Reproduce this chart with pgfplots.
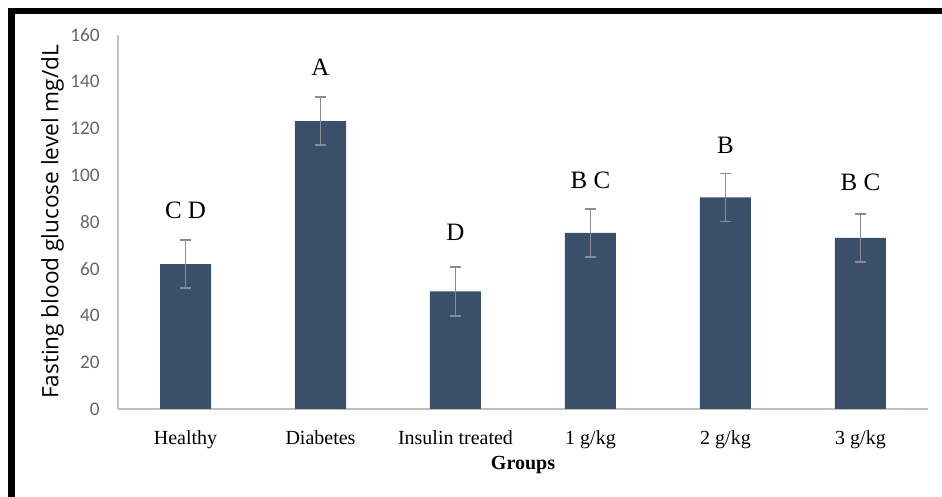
\documentclass[border=0pt]{standalone}
\usepackage{fontspec}
\setmainfont{Liberation Serif}
\newfontfamily\carlito{Carlito}
\newfontfamily\opensans{Open Sans}
\usepackage{pgfplots}
\pgfplotsset{compat=1.18}
\definecolor{barc}{HTML}{3A4F6A}
\definecolor{errc}{HTML}{8C8C8C}
\definecolor{axc}{HTML}{BFBFBF}
\definecolor{tickc}{HTML}{666666}
\begin{document}
\begin{tikzpicture}[x=1pt,y=1pt]
\useasboundingbox (0,0) rectangle (471,248.5);
\fill[white] (0,0) rectangle (471,248.5);
\draw[line width=3.3pt, line join=miter, line cap=rect] (5.75,-3) -- (5.75,243) -- (474,243);
\begin{axis}[
  at={(59pt,44pt)}, anchor=south west,
  scale only axis, width=405pt, height=187pt,
  xmin=-0.5, xmax=5.5, ymin=0, ymax=160,
  axis x line=bottom, axis y line=left,
  axis line style={axc, line width=1.2pt, -},
  xtick={0,1,2,3,4,5},
  xticklabels={Healthy,Diabetes,Insulin treated,1 g/kg,2 g/kg,3 g/kg},
  major x tick style={draw=none},
  extra x ticks={-0.5,0.5,1.5,2.5,3.5,4.5,5.5},
  extra x tick labels={},
  extra x tick style={tick align=outside, major tick length=2.5pt, tick style={axc, line width=1pt}},
  ytick={0,20,...,160},
  major y tick style={draw=none},
  yticklabel style={font=\carlito\fontsize{9.6}{12}\selectfont, text=tickc, xshift=-3.5pt},
  /pgf/number format/assume math mode=true,
  xticklabel style={font=\fontsize{10}{12}\selectfont, yshift=-5pt},
  ylabel={Fasting blood glucose level mg/dL},
  ylabel style={font=\opensans\fontsize{11.3}{13}\selectfont, at={(axis description cs:-0.081,0.5)}, anchor=center},
  xlabel={\textbf{Groups}},
  xlabel style={font=\fontsize{10}{12}\selectfont, at={(axis description cs:0.5,-0.15)}, anchor=center},
  clip=false,
]
\addplot[ybar, bar width=25.5pt, fill=barc, draw=none,
  error bars/.cd, y dir=both, y explicit,
  error bar style={errc, line width=0.8pt}, error mark options={errc, line width=0.8pt, mark size=2.6pt, rotate=90}]
  coordinates {(0,62) +- (0,10.3) (1,123.2) +- (0,10.2) (2,50.3) +- (0,10.5) (3,75.3) +- (0,10.3) (4,90.5) +- (0,10.3) (5,73.2) +- (0,10.3)};
\addplot[only marks, mark=none, nodes near coords, point meta=explicit symbolic,
  nodes near coords style={font=\fontsize{12.5}{14}\selectfont, anchor=center, text=black}]
  coordinates {(0,85)[C D] (1,146)[A] (2,75.5)[D] (3,98)[B C] (4,113)[B] (5,97)[B C]};
\end{axis}
\end{tikzpicture}
\end{document}
